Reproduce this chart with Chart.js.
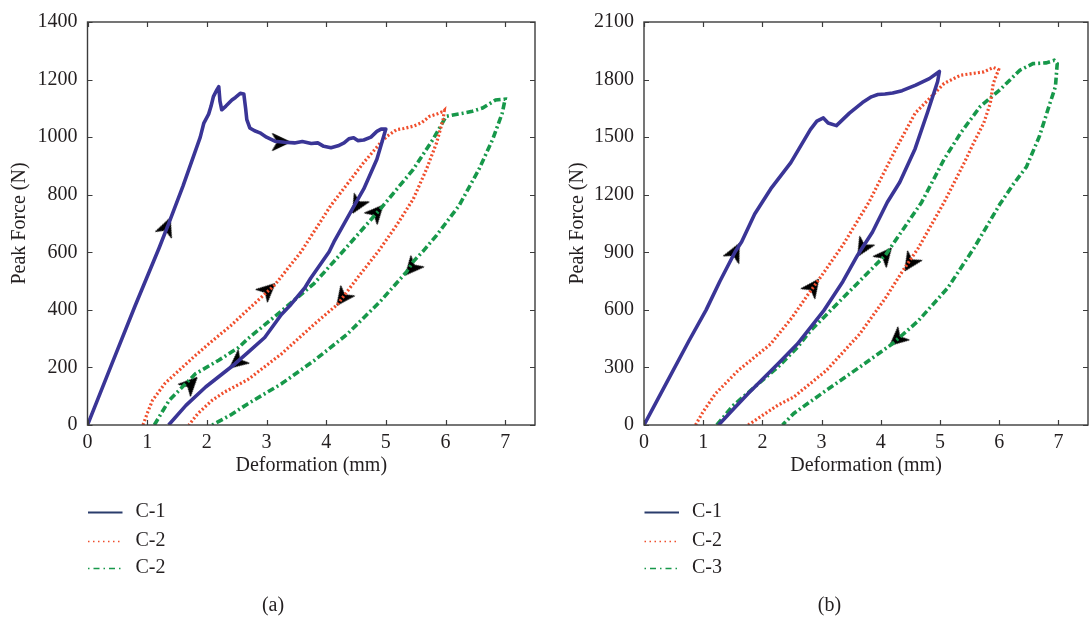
<!DOCTYPE html>
<html><head><meta charset="utf-8">
<script src="https://cdn.jsdelivr.net/npm/chart.js@4.4.1/dist/chart.umd.min.js"></script>
<style>
html,body{margin:0;padding:0;overflow:hidden;background:#fff;width:1091px;height:618px;}
#wa{position:absolute;left:0;top:0;width:545px;height:618px;}
#wb{position:absolute;left:545px;top:0;width:553px;height:618px;}
</style></head><body>
<div id="wa"><canvas id="ca" width="545" height="618"></canvas></div>
<div id="wb"><canvas id="cb" width="553" height="618"></canvas></div>
<script>
// ---------- tick labels / texts ----------
const xTicks = [0,1,2,3,4,5,6,7];
const yTicksA = [0,200,400,600,800,1000,1200,1400];
const yTicksB = [0,300,600,900,1200,1500,1800,2100];
const labelsA = ['C-1','C-2','C-2'];
const labelsB = ['C-1','C-2','C-3'];
const panelA = '(a)';
const panelB = '(b)';
const xTitle = 'Deformation (mm)';
const yTitle = 'Peak Force (N)';

// ---------- panel (a) curves: [deformation mm, force N] ----------
const a_C1 = [[0,0],[0.4,208],[0.8,415],[1.2,615],[1.37,705],[1.6,830],[1.89,1000],[1.95,1049],[2.03,1080],[2.07,1107],[2.11,1141],[2.17,1165],[2.20,1175],[2.22,1125],[2.25,1095],[2.32,1108],[2.42,1129],[2.48,1138],[2.56,1152],[2.62,1150],[2.65,1100],[2.67,1061],[2.72,1032],[2.80,1022],[2.89,1015],[3.00,1000],[3.14,986],[3.30,982],[3.47,980],[3.60,985],[3.75,978],[3.86,980],[3.96,968],[4.08,963],[4.20,970],[4.30,980],[4.38,994],[4.46,998],[4.53,988],[4.63,990],[4.75,1000],[4.85,1020],[4.92,1028],[5.00,1028],
  [4.85,923],[4.63,820],[4.44,751],[4.13,636],[4.05,602],[3.74,510],[3.64,476],[3.41,419],[3.25,384],[2.97,304],[2.69,252],[2.47,212],[1.98,132],[1.65,68],[1.36,0]];
const a_C2 = [[0.93,0],[1.0,40],[1.09,86],[1.3,145],[1.53,189],[1.8,240],[2.09,292],[2.4,345],[2.69,401],[3.14,487],[3.58,602],[4.08,763],[4.63,912],[4.91,980],[5.02,1003],[5.18,1026],[5.30,1030],[5.46,1038],[5.60,1050],[5.73,1072],[5.85,1080],[5.96,1089],[5.98,1093],
  [5.96,1061],[5.85,980],[5.68,888],[5.46,785],[5.18,694],[4.88,605],[4.52,510],[4.19,419],[3.80,350],[3.25,247],[2.69,158],[2.30,115],[2.09,86],[1.85,40],[1.70,0]];
const a_C3 = [[1.12,0],[1.25,45],[1.37,86],[1.81,178],[2.20,225],[2.53,269],[2.69,300],[3.25,396],[3.80,492],[4.32,612],[4.91,751],[5.46,888],[5.79,992],[6.01,1072],[6.15,1078],[6.29,1083],[6.45,1090],[6.62,1101],[6.84,1129],[7.00,1132],
  [6.95,1083],[6.79,992],[6.56,888],[6.23,763],[5.85,659],[5.63,605],[5.46,568],[5.35,533],[4.91,430],[4.35,315],[3.80,224],[3.25,143],[2.69,74],[2.40,35],[2.09,0]];
// arrows: [x, y, direction dx, direction dy] in data units
const a_arrows = [[1.33,690,0.1,52],[3.25,983,0.1,0],[4.52,763,-0.1,-36],[2.50,218,-0.1,-17],[3.03,470,0.1,19],[4.27,441,-0.1,-28],[1.73,143,0.1,21],[4.85,740,0.1,23],[5.43,545,-0.1,-24]];

// ---------- panel (b) curves ----------
const b_C1 = [[0,0],[0.38,220],[0.76,439],[1.05,600],[1.28,748],[1.54,903],[1.65,955],[1.87,1100],[2.14,1230],[2.48,1367],[2.81,1539],[2.92,1583],[3.03,1600],[3.11,1574],[3.25,1560],[3.47,1625],[3.69,1680],[3.84,1710],[3.95,1722],[4.07,1725],[4.20,1730],[4.36,1742],[4.59,1771],[4.82,1805],[4.99,1842],
  [4.96,1790],[4.79,1630],[4.58,1440],[4.32,1265],[4.11,1161],[3.86,1006],[3.61,886],[3.36,748],[3.03,593],[2.59,422],[2.26,318],[1.76,164],[1.50,80],[1.26,0]];
const b_C2 = [[0.87,0],[1.0,70],[1.21,164],[1.59,284],[2.14,422],[2.50,560],[2.81,697],[2.97,765],[3.36,938],[3.80,1161],[4.25,1436],[4.58,1625],[4.80,1694],[5.07,1780],[5.35,1823],[5.74,1840],[5.90,1863],[5.99,1852],
  [5.90,1780],[5.85,1677],[5.74,1574],[5.57,1471],[5.41,1367],[5.24,1264],[5.07,1161],[4.63,920],[4.38,808],[4.08,662],[3.64,473],[3.08,284],[2.53,146],[2.26,103],[2.00,50],[1.76,0]];
const b_C3 = [[1.23,0],[1.50,100],[1.87,198],[2.26,301],[2.59,404],[2.81,490],[3.36,662],[4.08,886],[4.69,1161],[5.07,1385],[5.35,1522],[5.68,1660],[6.01,1746],[6.35,1849],[6.57,1883],[6.79,1887],[6.93,1900],[6.98,1883],
  [6.95,1763],[6.84,1660],[6.68,1505],[6.46,1345],[6.24,1255],[6.01,1150],[5.57,920],[5.13,714],[4.63,542],[4.19,422],[3.64,301],[3.08,181],[2.53,60],[2.34,0]];
const b_arrows = [[1.54,903,0.1,62],[2.86,722,0.1,42],[3.69,920,-0.1,-52],[4.08,886,0.1,37],[4.49,843,-0.1,-47],[4.27,446,-0.1,-27]];

// ---------- styling ----------
const FONT = "'Liberation Serif', 'Times New Roman', serif";
const TXT = '#231f20';
const COL1 = '#3a3596', COL2 = '#f04e2c', COL3 = '#17984a';
Chart.defaults.font.family = FONT;
Chart.defaults.color = TXT;

function arrowImage(){
  const c = document.createElement('canvas'); c.width = 26; c.height = 26;
  const g = c.getContext('2d'); g.fillStyle = '#000';
  g.beginPath(); g.moveTo(22,13); g.lineTo(4,4.5); g.lineTo(9,13); g.lineTo(4,21.5); g.closePath(); g.fill();
  g.strokeStyle = '#000'; g.lineWidth = 1; g.stroke();
  return c;
}
const ARROW = arrowImage();
const pts = arr => arr.map(p => ({x:p[0], y:p[1]}));

const framePlugin = {
  id: 'frame',
  afterDatasetsDraw(chart){
    const {ctx, chartArea:a, scales:{x, y}} = chart;
    ctx.save();
    ctx.strokeStyle = '#3c3c3c'; ctx.lineWidth = 1.4;
    ctx.strokeRect(a.left, a.top, a.right - a.left, a.bottom - a.top);
    ctx.lineWidth = 1.2; ctx.beginPath();
    const tl = 5;
    chart.options.xTickVals.forEach(v => { const px = Math.round(x.getPixelForValue(v)) + 0.5;
      ctx.moveTo(px, a.bottom); ctx.lineTo(px, a.bottom - tl); ctx.moveTo(px, a.top); ctx.lineTo(px, a.top + tl); });
    chart.options.yTickVals.forEach(v => { const py = Math.round(y.getPixelForValue(v)) + 0.5;
      ctx.moveTo(a.left, py); ctx.lineTo(a.left + tl, py); ctx.moveTo(a.right, py); ctx.lineTo(a.right - tl, py); });
    ctx.stroke();
    ctx.restore();
  },
  afterDraw(chart){
    const {ctx, chartArea:a} = chart;
    ctx.save();
    ctx.font = '20px ' + FONT; ctx.fillStyle = TXT; ctx.textBaseline = 'middle'; ctx.textAlign = 'left';
    const rows = [512, 541, 568];
    chart.data.datasets.slice(0,3).forEach((ds, i) => {
      const yy = rows[i] + 0.5;
      ctx.strokeStyle = ds.legendColor; ctx.lineWidth = ds.legendWidth; ctx.setLineDash(ds.legendDash);
      ctx.beginPath(); ctx.moveTo(a.left + 0.5, yy); ctx.lineTo(a.left + 35, yy); ctx.stroke();
      ctx.setLineDash([]);
      ctx.fillText(ds.label, a.left + 48, rows[i]);
    });
    ctx.textAlign = 'center';
    ctx.fillText(chart.options.panelLabel, a.left + 185.5, 606);
    ctx.restore();
  }
};

function makeChart(id, c1, c2, c3, arrows, labels, yMax, yTicks, yWidth, yTitlePad, rightPad, panel){
  const arrowPts = arrows.map(p => ({x:p[0], y:p[1], dx:p[2], dy:p[3]}));
  return new Chart(document.getElementById(id), {
    type: 'scatter',
    data: { datasets: [
      {label: labels[0], data: pts(c1), showLine: true, borderColor: COL1, borderWidth: 3.6, pointRadius: 0, tension: 0, borderJoinStyle: 'round',
       legendColor: '#2a3c6c', legendWidth: 1.8, legendDash: []},
      {label: labels[1], data: pts(c2), showLine: true, borderColor: COL2, borderWidth: 3.2, borderDash: [2, 2.2], pointRadius: 0, tension: 0,
       legendColor: COL2, legendWidth: 1.5, legendDash: [1.5, 3.5]},
      {label: labels[2], data: pts(c3), showLine: true, borderColor: COL3, borderWidth: 3.6, borderDash: [7, 3, 2, 3], pointRadius: 0, tension: 0,
       legendColor: COL3, legendWidth: 1.5, legendDash: [1.5, 4, 6, 4]},
      {label: 'arrows', data: arrowPts, showLine: false, pointStyle: ARROW, pointRadius: 9, pointHoverRadius: 9,
       pointRotation: ctx => {
         const r = ctx.raw; if (!r) return 0;
         const sx = ctx.chart.scales.x, sy = ctx.chart.scales.y;
         const dxp = sx.getPixelForValue(r.x + r.dx) - sx.getPixelForValue(r.x);
         const dyp = sy.getPixelForValue(r.y + r.dy) - sy.getPixelForValue(r.y);
         return Math.atan2(dyp, dxp) * 180 / Math.PI;
       }}
    ]},
    options: {
      responsive: false, animation: false, devicePixelRatio: 1,
      xTickVals: xTicks, yTickVals: yTicks, panelLabel: panel,
      layout: { padding: {left: 0, top: 18, right: rightPad, bottom: 136} },
      plugins: { legend: {display: false}, tooltip: {enabled: false} },
      events: [],
      scales: {
        x: { type: 'linear', min: 0, max: 7.5,
          afterBuildTicks: s => { s.ticks = xTicks.map(v => ({value: v})); },
          afterFit: s => { s.height = 57; },
          ticks: { padding: 6, color: TXT, font: {size: 20}, callback: v => String(v), maxRotation: 0, autoSkip: false },
          grid: { display: false, drawTicks: false }, border: { display: false },
          title: { display: true, text: xTitle, color: TXT, font: {size: 20}, padding: {top: 4, bottom: 4} } },
        y: { type: 'linear', min: 0, max: yMax,
          afterBuildTicks: s => { s.ticks = yTicks.map(v => ({value: v})); },
          afterFit: s => { s.width = yWidth; },
          ticks: { padding: 10, color: TXT, font: {size: 20}, callback: v => String(v), autoSkip: false },
          grid: { display: false, drawTicks: false }, border: { display: false },
          title: { display: true, text: yTitle, color: TXT, font: {size: 20}, padding: {top: yTitlePad, bottom: 0} } }
      }
    },
    plugins: [framePlugin]
  });
}

makeChart('ca', a_C1, a_C2, a_C3, a_arrows, labelsA, 1400, yTicksA, 87.5, 8, 4, panelA);
makeChart('cb', b_C1, b_C2, b_C3, b_arrows, labelsB, 2100, yTicksB, 99, 21, 2, panelB);
</script>
</body></html>
